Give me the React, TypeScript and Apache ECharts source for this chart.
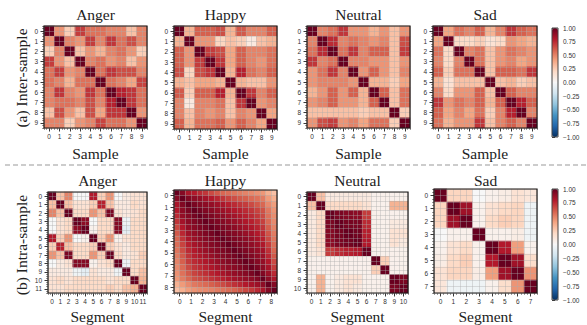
import React, { useEffect, useRef } from "react";
import * as echarts from "echarts";

// ---------- texts ----------
const emotionTitles = ["Anger", "Happy", "Neutral", "Sad"];
const rowLabels = ["(a) Inter-sample", "(b) Intra-sample"];
const xAxisNames = ["Sample", "Segment"];

// ---------- tick labels ----------
const sampleLabels = ["0", "1", "2", "3", "4", "5", "6", "7", "8", "9"];
const angerSegLabels = ["0", "1", "2", "3", "4", "5", "6", "7", "8", "9", "10", "11"];
const happySegLabels = ["0", "1", "2", "3", "4", "5", "6", "7", "8"];
const neutralSegLabels = ["0", "1", "2", "3", "4", "5", "6", "7", "8", "9", "10"];
const sadSegLabels = ["0", "1", "2", "3", "4", "5", "6", "7"];
const colorbarTicks = [-1, -0.75, -0.5, -0.25, 0, 0.25, 0.5, 0.75, 1];

// ---------- similarity matrices (upper triangles, row i holds columns i..n-1) ----------
const angerInter = [
  [1, 0.45, 0.25, 0.7, 0.55, 0.55, 0.5, 0.5, 0.3, 0.5],
  [1, 0.5, 0.45, 0.7, 0.5, 0.72, 0.55, 0.65, 0.5],
  [1, 0.3, 0.45, 0.35, 0.5, 0.55, 0.45, 0.25],
  [1, 0.5, 0.55, 0.45, 0.5, 0.3, 0.45],
  [1, 0.55, 0.72, 0.65, 0.65, 0.5],
  [1, 0.55, 0.5, 0.4, 0.68],
  [1, 0.78, 0.72, 0.55],
  [1, 0.72, 0.55],
  [1, 0.45],
  [1],
];
const happyInter = [
  [1, 0.35, 0.6, 0.6, 0.65, 0.35, 0.62, 0.5, 0.5, 0.6],
  [1, 0.45, 0.45, 0.22, 0.3, 0.25, 0.1, 0.3, 0.35],
  [1, 0.7, 0.65, 0.4, 0.6, 0.5, 0.5, 0.55],
  [1, 0.72, 0.4, 0.6, 0.5, 0.45, 0.55],
  [1, 0.35, 0.78, 0.55, 0.5, 0.6],
  [1, 0.35, 0.3, 0.3, 0.45],
  [1, 0.72, 0.5, 0.6],
  [1, 0.45, 0.5],
  [1, 0.4],
  [1],
];
const neutralInter = [
  [1, 0.5, 0.55, 0.72, 0.45, 0.45, 0.35, 0.45, 0.3, 0.45],
  [1, 0.75, 0.5, 0.55, 0.5, 0.45, 0.5, 0.3, 0.65],
  [1, 0.55, 0.72, 0.5, 0.6, 0.6, 0.3, 0.7],
  [1, 0.5, 0.5, 0.45, 0.45, 0.3, 0.45],
  [1, 0.45, 0.6, 0.45, 0.3, 0.5],
  [1, 0.35, 0.35, 0.25, 0.4],
  [1, 0.6, 0.3, 0.55],
  [1, 0.3, 0.55],
  [1, 0.25],
  [1],
];
const sadInter = [
  [1, 0.4, 0.55, 0.5, 0.6, 0.35, 0.5, 0.72, 0.6, 0.55],
  [1, 0.2, 0.2, 0.25, 0.15, 0.2, 0.45, 0.4, 0.35],
  [1, 0.5, 0.55, 0.3, 0.45, 0.55, 0.5, 0.45],
  [1, 0.55, 0.3, 0.45, 0.5, 0.4, 0.45],
  [1, 0.3, 0.6, 0.6, 0.55, 0.72],
  [1, 0.3, 0.35, 0.25, 0.3],
  [1, 0.6, 0.5, 0.5],
  [1, 0.78, 0.6],
  [1, 0.5],
  [1],
];
const angerIntra = [
  [1, 0.3, 0.5, 0.0, 0.0, 0.8, 0.25, 0.45, 0.0, 0.1, 0.15, 0.15],
  [1, 0.3, 0.15, 0.15, 0.25, 0.78, 0.3, 0.1, 0.1, 0.2, 0.15],
  [1, 0.2, 0.2, 0.45, 0.3, 0.95, 0.15, 0.1, 0.15, 0.2],
  [1, 0.9, 0.0, 0.2, 0.2, 0.92, -0.05, 0.2, 0.2],
  [1, 0.05, 0.2, 0.2, 0.92, -0.1, 0.2, 0.2],
  [1, 0.25, 0.45, 0.05, 0.15, 0.2, 0.2],
  [1, 0.25, 0.15, 0.1, 0.2, 0.2],
  [1, 0.2, 0.1, 0.15, 0.25],
  [1, -0.05, 0.2, 0.2],
  [1, 0.2, 0.3],
  [1, 0.35],
  [1],
];
const happyIntra = [
  [1.0, 0.92, 0.82, 0.8, 0.75, 0.72, 0.66, 0.62, 0.58, 0.56, 0.54, 0.52, 0.5, 0.48, 0.46, 0.44, 0.36, 0.3],
  [1.0, 0.93, 0.9, 0.88, 0.84, 0.8, 0.76, 0.72, 0.68, 0.65, 0.62, 0.6, 0.57, 0.55, 0.52, 0.43, 0.36],
  [1.0, 0.95, 0.92, 0.9, 0.88, 0.85, 0.82, 0.78, 0.75, 0.72, 0.7, 0.66, 0.62, 0.58, 0.48, 0.42],
  [1.0, 0.96, 0.93, 0.91, 0.88, 0.86, 0.83, 0.8, 0.78, 0.75, 0.72, 0.68, 0.64, 0.53, 0.45],
  [1.0, 0.96, 0.94, 0.91, 0.89, 0.86, 0.84, 0.81, 0.78, 0.75, 0.71, 0.66, 0.55, 0.47],
  [1.0, 0.96, 0.94, 0.92, 0.89, 0.87, 0.84, 0.81, 0.78, 0.74, 0.69, 0.57, 0.48],
  [1.0, 0.96, 0.94, 0.92, 0.9, 0.87, 0.84, 0.81, 0.77, 0.72, 0.6, 0.5],
  [1.0, 0.96, 0.94, 0.92, 0.9, 0.87, 0.84, 0.8, 0.75, 0.63, 0.52],
  [1.0, 0.96, 0.94, 0.92, 0.9, 0.87, 0.83, 0.78, 0.66, 0.54],
  [1.0, 0.96, 0.94, 0.92, 0.89, 0.86, 0.81, 0.7, 0.56],
  [1.0, 0.96, 0.94, 0.91, 0.88, 0.84, 0.73, 0.58],
  [1.0, 0.96, 0.93, 0.9, 0.86, 0.76, 0.62],
  [1.0, 0.96, 0.92, 0.88, 0.8, 0.66],
  [1.0, 0.95, 0.9, 0.83, 0.7],
  [1.0, 0.93, 0.86, 0.75],
  [1.0, 0.9, 0.82],
  [1.0, 0.92],
  [1.0],
];
const neutralIntra = [
  [1, 0.3, 0.1, 0.1, 0.1, 0.1, 0.1, 0.05, 0.05, 0.05, 0.05],
  [1, 0.2, 0.2, 0.2, 0.2, 0.15, 0.05, 0.05, 0.35, 0.35],
  [1, 0.95, 0.92, 0.9, 0.7, 0.05, 0.05, 0.05, 0.05],
  [1, 0.96, 0.95, 0.75, 0.05, 0.05, 0.1, 0.1],
  [1, 0.97, 0.78, 0.05, 0.05, 0.15, 0.15],
  [1, 0.8, 0.05, 0.05, 0.15, 0.1],
  [1, 0.05, 0.05, 0.05, 0.05],
  [1, 0.25, 0.05, 0.05],
  [1, 0.05, 0.05],
  [1, 0.95],
  [1],
];
const sadIntra = [
  [1, 0.22, 0.22, 0.0, 0.05, 0.08, 0.15, 0.12],
  [1, 0.85, 0.05, 0.15, 0.2, 0.22, -0.05],
  [1, 0.05, 0.2, 0.25, 0.22, -0.05],
  [1, 0.05, 0.05, 0.08, -0.05],
  [1, 0.8, 0.42, 0.05],
  [1, 0.85, 0.18],
  [1, 0.45],
  [1],
];

const panelMatrices = [angerInter, happyInter, neutralInter, sadInter, angerIntra, happyIntra, neutralIntra, sadIntra];
const panelLabels = [sampleLabels, sampleLabels, sampleLabels, sampleLabels, angerSegLabels, happySegLabels, neutralSegLabels, sadSegLabels];

// RdBu_r
const rdbu = ["#053061", "#2166ac", "#4393c3", "#92c5de", "#d1e5f0", "#f7f7f7", "#fddbc7", "#f4a582", "#d6604d", "#b2182b", "#67001f"];

// ---------- layout ----------
const boxes = [
  { left: 44, top: 26, width: 103, height: 102 },
  { left: 174, top: 26, width: 103, height: 103 },
  { left: 307, top: 26, width: 103, height: 102 },
  { left: 433, top: 26, width: 104, height: 102 },
  { left: 48, top: 192, width: 99, height: 101 },
  { left: 174, top: 190, width: 103, height: 103 },
  { left: 307, top: 192, width: 101, height: 101 },
  { left: 434, top: 189, width: 103, height: 104 },
];
const cbBoxes = [
  { left: 552, top: 28, width: 6, height: 109 },
  { left: 552, top: 189, width: 6, height: 111 },
];

const SERIF = "'Liberation Serif', 'Times New Roman', serif";
const SANS = "'Liberation Sans', 'DejaVu Sans', sans-serif";

function fullMatrix(u: number[][]): number[][] {
  const n = u.length;
  const m: number[][] = [];
  for (let i = 0; i < n; i++) m.push(new Array(n).fill(0));
  for (let i = 0; i < n; i++) {
    for (let k = 0; k < u[i].length; k++) {
      const j = i + k;
      m[i][j] = u[i][k];
      m[j][i] = u[i][k];
    }
  }
  return m;
}

function idx(n: number): string[] {
  const a: string[] = [];
  for (let i = 0; i < n; i++) a.push("c" + i);
  return a;
}

function buildOption() {
  const grid: any[] = [];
  const xAxis: any[] = [];
  const yAxis: any[] = [];
  const series: any[] = [];

  panelMatrices.forEach((u, k) => {
    const m = fullMatrix(u);
    const n = m.length;
    const labels = panelLabels[k];
    const nl = labels.length;
    const b = boxes[k];
    grid.push({
      left: b.left, top: b.top, width: b.width, height: b.height,
      show: true, borderColor: "#1a1a1a", borderWidth: 1.2, backgroundColor: "transparent",
      z: 5, containLabel: false, outerBoundsMode: "none",
    });
    const cells = idx(n);
    const half = idx(nl * 2);
    const quarter = idx(nl * 4);
    for (const dir of ["x", "y"]) {
      const arr = dir === "x" ? xAxis : yAxis;
      const pos = dir === "x" ? "bottom" : "left";
      const inverse = dir === "y";
      // data axis
      arr.push({
        type: "category", gridIndex: k, data: cells, inverse, position: pos,
        axisLine: { show: false }, axisTick: { show: false }, axisLabel: { show: false }, splitLine: { show: false },
      });
      // label axis
      arr.push({
        type: "category", gridIndex: k, data: labels, inverse, position: pos,
        axisLine: { show: false },
        axisTick: { show: true, alignWithLabel: true, interval: 0, length: 3.5, lineStyle: { color: "#222", width: 0.9 } },
        axisLabel: { show: true, interval: 0, fontSize: 6.5, margin: dir === "x" ? 5 : 6, color: "#333", fontFamily: SANS },
        splitLine: { show: false },
      });
      // grid line axis
      arr.push({
        type: "category", gridIndex: k, data: half, inverse, position: pos, z: 4,
        axisLine: { show: false }, axisTick: { show: false }, axisLabel: { show: false },
        splitLine: { show: true, interval: 0, lineStyle: { color: "rgba(170,170,170,0.55)", width: 0.7 } },
      });
      // minor ticks axis
      arr.push({
        type: "category", gridIndex: k, data: quarter, inverse, position: pos,
        axisLine: { show: false }, axisLabel: { show: false },
        axisTick: { show: true, interval: 0, length: 1.8, lineStyle: { color: "#333", width: 0.6 } },
        splitLine: { show: false },
      });
    }
    const data: number[][] = [];
    for (let i = 0; i < n; i++) for (let j = 0; j < n; j++) data.push([j, i, m[i][j]]);
    series.push({
      type: "heatmap", xAxisIndex: k * 4, yAxisIndex: k * 4, data,
      itemStyle: { borderWidth: 0 }, emphasis: { disabled: true }, silent: true, progressive: 0,
    });
  });

  // colorbar grids
  cbBoxes.forEach((b, c) => {
    const gi = panelMatrices.length + c;
    grid.push({
      left: b.left, top: b.top, width: b.width, height: b.height,
      show: true, borderColor: "#444", borderWidth: 1, backgroundColor: "transparent",
      z: 5, containLabel: false, outerBoundsMode: "none",
    });
    xAxis.push({ type: "value", gridIndex: gi, show: false, min: 0, max: 1 });
    yAxis.push({
      type: "value", gridIndex: gi, min: colorbarTicks[0], max: colorbarTicks[colorbarTicks.length - 1], interval: 0.25,
      position: "right",
      axisLine: { show: false },
      axisTick: { show: true, length: 3, lineStyle: { color: "#222", width: 0.9 } },
      minorTick: { show: true, splitNumber: 5, length: 1.5, lineStyle: { color: "#333", width: 0.6 } },
      splitLine: { show: false },
      axisLabel: {
        fontSize: 6.5, margin: 5, color: "#333", fontFamily: SANS,
        formatter: (v: number) => (v < 0 ? "\u2212" : "") + Math.abs(v).toFixed(2),
      },
    });
  });

  const visualMap = cbBoxes.map((b, c) => ({
    type: "continuous",
    min: -1, max: 1,
    seriesIndex: c === 0 ? [0, 1, 2, 3] : [4, 5, 6, 7],
    inRange: { color: rdbu },
    calculable: false, hoverLink: false, orient: "vertical",
    left: b.left, top: b.top, itemWidth: b.width, itemHeight: b.height, padding: 0,
    z: 3,
  }));

  const graphic: any[] = [];
  boxes.forEach((b, k) => {
    const row = k < 4 ? 0 : 1;
    const cx = b.left + b.width / 2;
    graphic.push({
      type: "text", x: cx, y: row === 0 ? 14 : 180,
      style: { text: emotionTitles[k % 4], font: `normal 15.5px ${SERIF}`, fill: "#222", align: "center", verticalAlign: "middle" },
    });
    graphic.push({
      type: "text", x: cx, y: row === 0 ? 153 : 316,
      style: { text: xAxisNames[row], font: `normal 15.5px ${SERIF}`, fill: "#222", align: "center", verticalAlign: "middle" },
    });
  });
  graphic.push({
    type: "text", x: 21, y: 78, rotation: Math.PI / 2,
    style: { text: rowLabels[0], font: `normal 15.5px ${SERIF}`, fill: "#222", align: "center", verticalAlign: "middle" },
  });
  graphic.push({
    type: "text", x: 21, y: 245, rotation: Math.PI / 2,
    style: { text: rowLabels[1], font: `normal 15.5px ${SERIF}`, fill: "#222", align: "center", verticalAlign: "middle" },
  });
  graphic.push({
    type: "line", shape: { x1: 5, y1: 165, x2: 587, y2: 165 },
    style: { stroke: "#999", lineWidth: 1, lineDash: [5, 3] },
  });

  return {
    animation: false,
    backgroundColor: "#ffffff",
    grid, xAxis, yAxis, series, visualMap, graphic,
  };
}

export default function App() {
  const ref = useRef<HTMLDivElement>(null);
  useEffect(() => {
    if (!ref.current) return;
    const chart = echarts.init(ref.current, undefined, { renderer: "svg" });
    chart.setOption(buildOption() as any);
    return () => chart.dispose();
  }, []);
  return <div ref={ref} style={{ position: "absolute", left: 0, top: 0, width: 587, height: 325 }} />;
}
